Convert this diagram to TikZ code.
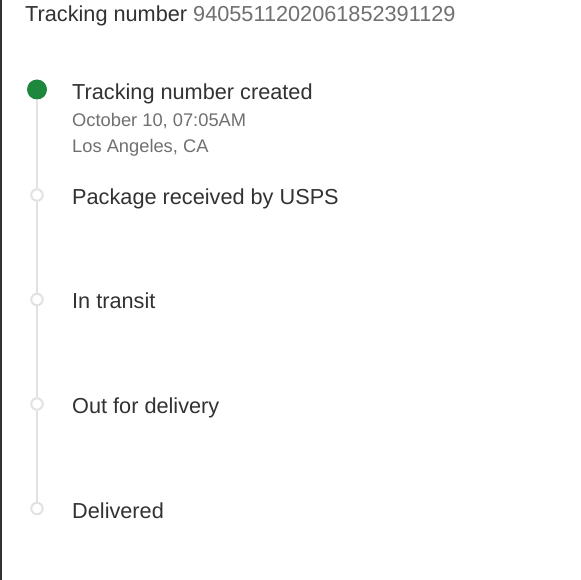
\documentclass[tikz,border=0pt]{standalone}
\usepackage{fontspec}
\setmainfont{Liberation Sans}
\usetikzlibrary{positioning}
\definecolor{trackgreen}{RGB}{30,135,62}
\definecolor{railgray}{RGB}{226,226,228}
\definecolor{textdark}{RGB}{50,50,50}
\definecolor{textgray}{RGB}{112,112,112}

\begin{document}
\begin{tikzpicture}[x=1pt,y=-1pt,
    heading/.style={anchor=base west,inner sep=0pt,text=textdark,font=\fontsize{21.7}{26}\selectfont},
    detail/.style={anchor=base west,inner sep=0pt,text=textgray,font=\fontsize{18.3}{22}\selectfont},
    dotdone/.style={circle,fill=trackgreen,minimum size=20pt,inner sep=0pt},
    dotopen/.style={circle,draw=railgray,fill=white,line width=2pt,minimum size=11.5pt,inner sep=0pt},
    rail/.style={draw=railgray,line width=2pt}]
    \useasboundingbox (0,0) rectangle (580,580);
    \fill[white] (0,0) rectangle (580,580);
    \draw[line width=2pt,textdark] (1,0) -- (1,580);
    % title line
    \node[heading] (title) at (25,21.5) {Tracking number \textcolor{textgray}{9405511202061852391129}};
    % timeline dots
    \node[dotdone] (d0) at (37,89.5) {};
    \node[dotopen] (d1) at (37,195) {};
    \node[dotopen] (d2) at (37,299.5) {};
    \node[dotopen] (d3) at (37,404) {};
    \node[dotopen] (d4) at (37,508.5) {};
    \draw[rail] (d0) -- (d1);
    \draw[rail] (d1) -- (d2);
    \draw[rail] (d2) -- (d3);
    \draw[rail] (d3) -- (d4);
    % step texts
    \node[heading] (s0) at (72,100) {Tracking number created};
    \node[detail] (s0date) at (72,127) {October 10, 07:05AM};
    \node[detail] (s0place) at (72,153) {Los Angeles, CA};
    \node[heading] (s1) at (72,204) {Package received by USPS};
    \node[heading] (s2) at (72,308.5) {In transit};
    \node[heading] (s3) at (72,413.5) {Out for delivery};
    \node[heading] (s4) at (72,518.5) {Delivered};
\end{tikzpicture}
\end{document}
